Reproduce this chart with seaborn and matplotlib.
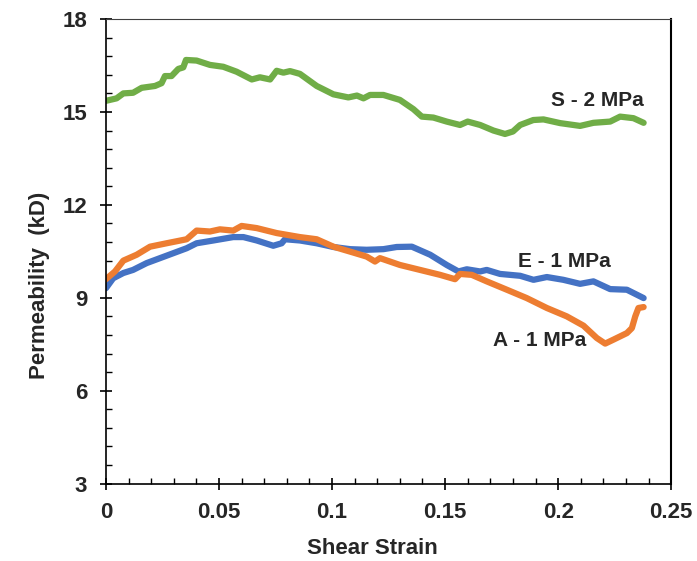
import matplotlib
matplotlib.use("Agg")
import matplotlib.pyplot as plt
from matplotlib.ticker import MultipleLocator, FuncFormatter
import seaborn as sns
import pandas as pd

# Permeability evolution with shear strain for three samples
s_strain = [0.0, 0.0047, 0.0077, 0.012, 0.0158, 0.0217, 0.0246, 0.0261, 0.029, 0.032,
            0.0342, 0.0354, 0.0401, 0.046, 0.0519, 0.0578, 0.0645, 0.0681, 0.0726, 0.0755,
            0.0785, 0.0814, 0.0858, 0.0932, 0.1006, 0.1072, 0.111, 0.1139, 0.1168, 0.1227,
            0.130, 0.136, 0.1397, 0.1448, 0.1507, 0.1566, 0.160, 0.1655, 0.1714, 0.1765,
            0.180, 0.1832, 0.189, 0.1935, 0.2009, 0.2097, 0.2156, 0.223, 0.2274, 0.2333,
            0.2378]
s_perm = [15.36, 15.44, 15.60, 15.62, 15.78, 15.84, 15.93, 16.16, 16.16, 16.39,
          16.44, 16.68, 16.66, 16.52, 16.46, 16.30, 16.05, 16.12, 16.05, 16.33,
          16.27, 16.32, 16.23, 15.84, 15.57, 15.47, 15.53, 15.44, 15.55, 15.55,
          15.39, 15.09, 14.85, 14.82, 14.69, 14.58, 14.69, 14.58, 14.40, 14.29,
          14.37, 14.58, 14.74, 14.76, 14.64, 14.55, 14.65, 14.69, 14.85, 14.80,
          14.65]

e_strain = [0.0, 0.0032, 0.0077, 0.012, 0.018, 0.0239, 0.0298, 0.0357, 0.0401, 0.0475,
            0.0563, 0.0608, 0.0667, 0.074, 0.0777, 0.0792, 0.0858, 0.0932, 0.1006, 0.108,
            0.1153, 0.1227, 0.1286, 0.1353, 0.1434, 0.1507, 0.1559, 0.1596, 0.1655, 0.1684,
            0.1743, 0.1832, 0.1891, 0.195, 0.2023, 0.2097, 0.2156, 0.223, 0.2304, 0.2378]
e_perm = [9.31, 9.63, 9.80, 9.90, 10.12, 10.28, 10.44, 10.60, 10.76, 10.85,
          10.96, 10.96, 10.85, 10.68, 10.76, 10.89, 10.85, 10.76, 10.64, 10.57,
          10.55, 10.57, 10.64, 10.65, 10.39, 10.06, 9.85, 9.92, 9.85, 9.90,
          9.77, 9.71, 9.58, 9.67, 9.58, 9.45, 9.53, 9.28, 9.26, 8.99]

a_strain = [0.0, 0.004, 0.0077, 0.0136, 0.0195, 0.0268, 0.0357, 0.0401, 0.046, 0.0504,
            0.0563, 0.060, 0.0667, 0.0755, 0.0858, 0.0932, 0.1006, 0.1094, 0.1153, 0.119,
            0.1212, 0.130, 0.1389, 0.1478, 0.1544, 0.1566, 0.1618, 0.1684, 0.1773, 0.1861,
            0.195, 0.2038, 0.2112, 0.2171, 0.2208, 0.2245, 0.2304, 0.2326, 0.2341, 0.2355,
            0.2378]
a_perm = [9.60, 9.85, 10.20, 10.39, 10.65, 10.76, 10.89, 11.17, 11.14, 11.21,
          11.17, 11.32, 11.25, 11.09, 10.96, 10.89, 10.65, 10.46, 10.33, 10.17,
          10.28, 10.06, 9.90, 9.74, 9.60, 9.77, 9.74, 9.53, 9.26, 8.99,
          8.67, 8.40, 8.10, 7.70, 7.52, 7.65, 7.86, 8.02, 8.40, 8.67,
          8.70]

series_labels = ["S - 2 MPa", "E - 1 MPa", "A - 1 MPa"]
series_colors = ["#70AD47", "#4472C4", "#ED7D31"]

x_ticks = [0, 0.05, 0.1, 0.15, 0.2, 0.25]
y_ticks = [3, 6, 9, 12, 15, 18]

sns.set_style("white")
plt.rcParams["font.family"] = ["Liberation Sans", "DejaVu Sans"]
plt.rcParams["font.weight"] = "bold"

fig = plt.figure(figsize=(6.97, 5.61), dpi=100)
ax = fig.add_axes([0.152, 0.138, 0.811, 0.828])

frames = [
    pd.DataFrame({"strain": s_strain, "perm": s_perm}),
    pd.DataFrame({"strain": e_strain, "perm": e_perm}),
    pd.DataFrame({"strain": a_strain, "perm": a_perm}),
]
for df, color in zip(frames, series_colors):
    sns.lineplot(data=df, x="strain", y="perm", ax=ax, color=color, linewidth=4.5,
                 sort=False, estimator=None, solid_capstyle="round",
                 solid_joinstyle="round")

# series labels placed beside their curves
ax.text(0.197, 15.36, series_labels[0], fontsize=15, fontweight="bold", ha="left", va="center")
ax.text(0.1824, 10.17, series_labels[1], fontsize=15, fontweight="bold", ha="left", va="center")
ax.text(0.1714, 7.62, series_labels[2], fontsize=15, fontweight="bold", ha="left", va="center")

ax.set_xlim(0, 0.25)
ax.set_ylim(3, 18)
ax.set_xticks(x_ticks)
ax.set_yticks(y_ticks)
ax.xaxis.set_major_formatter(FuncFormatter(lambda v, p: "%g" % v))
ax.xaxis.set_minor_locator(MultipleLocator(0.01))
ax.yaxis.set_minor_locator(MultipleLocator(0.6))

ax.tick_params(which="major", direction="inout", length=9, width=1.2, color="black",
               labelsize=16)
ax.tick_params(axis="y", which="major", pad=9)
ax.tick_params(axis="x", which="major", pad=9)
ax.tick_params(which="minor", direction="in", length=4.5, width=1.0, color="black")
ax.tick_params(left=True, bottom=True, which="both")

for lbl in ax.get_xticklabels() + ax.get_yticklabels():
    lbl.set_fontweight("bold")

ax.set_xlabel("Shear Strain", fontsize=16, fontweight="bold", labelpad=7)
ax.set_ylabel("Permeability  (kD)", fontsize=16, fontweight="bold", labelpad=9)
ax.xaxis.set_label_coords(0.471, -0.118)
ax.yaxis.label.set_y(0.427)

for side in ["left", "bottom"]:
    ax.spines[side].set_color("black")
    ax.spines[side].set_linewidth(1.2)
ax.spines["right"].set_color("black")
ax.spines["right"].set_linewidth(1.5)
ax.spines["top"].set_color("#404040")
ax.spines["top"].set_linewidth(0.8)

fig.savefig("out.png", dpi=100)
